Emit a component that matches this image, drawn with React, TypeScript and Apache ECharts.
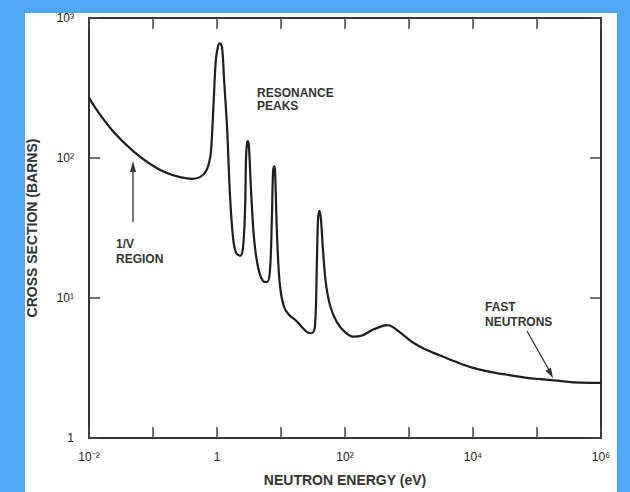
import React, { useEffect, useRef } from 'react';
import * as echarts from 'echarts';

// Neutron energy (eV) and total cross section (barns)
const energyEv = [
  0.01, 0.0148, 0.0257, 0.049, 0.089, 0.154, 0.264, 0.41, 0.54, 0.67,
  0.78, 0.83, 0.89, 0.96, 1.04, 1.11, 1.2, 1.29, 1.44, 1.59,
  1.78, 1.99, 2.3, 2.55, 2.75, 2.84, 2.95, 3.05, 3.16, 3.39,
  3.78, 4.38, 5.25, 6.03, 6.7, 7.2, 7.5, 7.8, 8.06, 8.7,
  9.6, 11.1, 13.3, 16.6, 20.5, 25.6, 30.3, 34, 36.5, 38,
  40, 42, 45, 50, 59, 75, 100, 133, 185, 265,
  380, 470, 605, 810, 1120, 1780, 3000, 5400, 10000, 18500,
  34000, 65000, 112000, 205000, 365000, 680000, 1000000,
];
const crossSectionBarns = [
  269, 205, 149, 112, 91, 79, 73, 71, 73, 80,
  100, 138, 263, 500, 630, 660, 615, 363, 162, 56,
  27, 21, 20, 23, 44, 100, 129, 132, 120, 61,
  27, 16.6, 13.2, 13, 15.4, 37, 78, 87, 82, 27,
  12.4, 8.7, 7.6, 7.0, 6.3, 5.7, 5.6, 6.3, 19.6, 37,
  42, 37, 23, 13, 8.7, 6.7, 5.7, 5.3, 5.4, 5.9,
  6.3, 6.4, 6.05, 5.45, 4.85, 4.3, 3.9, 3.5, 3.17, 2.97,
  2.83, 2.7, 2.63, 2.57, 2.5, 2.48, 2.48,
];

const xLabelExponents = [-2, 0, 2, 4, 6];
const xLabelTexts = ['10⁻²', '1', '10²', '10⁴', '10⁶'];
const yLabelExponents = [0, 1, 2, 3];
const yLabelTexts = ['1', '10¹', '10²', '10³'];

const xAxisName = 'NEUTRON ENERGY (eV)';
const yAxisName = 'CROSS SECTION (BARNS)';
const resonanceText = 'RESONANCE\nPEAKS';
const oneOverVText = '1/V\nREGION';
const fastText = 'FAST\nNEUTRONS';

const FONT = '"Liberation Sans", Arial, sans-serif';
const INK = '#1e1e1e';

export default function App() {
  const ref = useRef<HTMLDivElement>(null);

  useEffect(() => {
    const chart = echarts.init(ref.current!, null, { renderer: 'svg' });
    const xFmt = (v: number) => {
      const e = Math.round(Math.log10(v));
      const i = xLabelExponents.indexOf(e);
      return i >= 0 ? xLabelTexts[i] : '';
    };
    const yFmt = (v: number) => {
      const e = Math.round(Math.log10(v));
      const i = yLabelExponents.indexOf(e);
      return i >= 0 ? yLabelTexts[i] : '';
    };
    const axisLine = { show: true, lineStyle: { color: '#333', width: 2 } };
    const axisTick = { show: true, inside: true, length: 11, lineStyle: { color: '#444', width: 1.5 } };

    chart.setOption({
      animation: false,
      backgroundColor: '#52a6f8',
      grid: { left: 89, top: 18, width: 512, height: 425, containLabel: false },
      xAxis: [
        {
          type: 'log', logBase: 10, min: 0.01, max: 1000000, splitNumber: 8,
          position: 'bottom',
          axisLine, axisTick,
          splitLine: { show: false },
          axisLabel: {
            formatter: xFmt, color: '#222', fontSize: 12, fontFamily: FONT,
            margin: 13, showMinLabel: true, showMaxLabel: true, hideOverlap: false,
          },
          name: xAxisName, nameLocation: 'middle', nameGap: 35,
          nameTextStyle: { color: '#333', fontSize: 14, fontWeight: 'bold', fontFamily: FONT },
        },
        {
          type: 'log', logBase: 10, min: 0.01, max: 1000000, splitNumber: 8,
          position: 'top',
          axisLine, axisTick,
          splitLine: { show: false },
          axisLabel: { show: false },
        },
      ],
      yAxis: [
        {
          type: 'log', logBase: 10, min: 1, max: 1000, splitNumber: 3,
          position: 'left',
          axisLine, axisTick,
          splitLine: { show: false },
          axisLabel: {
            formatter: yFmt, color: '#222', fontSize: 12, fontFamily: FONT,
            margin: 15, showMinLabel: true, showMaxLabel: true,
          },
          name: yAxisName, nameLocation: 'middle', nameGap: 50,
          nameTextStyle: { color: '#333', fontSize: 14, fontWeight: 'bold', fontFamily: FONT },
        },
        {
          type: 'log', logBase: 10, min: 1, max: 1000, splitNumber: 3,
          position: 'right',
          axisLine, axisTick,
          splitLine: { show: false },
          axisLabel: { show: false },
        },
      ],
      series: [
        {
          type: 'line',
          xAxisIndex: 0,
          yAxisIndex: 0,
          data: energyEv.map((e, i) => [e, crossSectionBarns[i]]),
          showSymbol: false,
          smooth: 0.35,
          lineStyle: { color: INK, width: 2.2 },
          z: 3,
        },
      ],
      graphic: [
        { type: 'rect', z: -10, silent: true, shape: { x: 25, y: 13, width: 592, height: 479 }, style: { fill: '#fff' } },
        { type: 'rect', z: 100, silent: true, shape: { x: 617, y: 0, width: 13, height: 492 }, style: { fill: '#52a6f8' } },
        {
          type: 'text', z: 50, x: 257, y: 86,
          style: { text: resonanceText, fill: '#333', font: `bold 12px ${FONT}`, lineHeight: 13 },
        },
        {
          type: 'text', z: 50, x: 116, y: 236,
          style: { text: oneOverVText, fill: '#333', font: `bold 12px ${FONT}`, lineHeight: 15 },
        },
        {
          type: 'text', z: 50, x: 485, y: 299,
          style: { text: fastText, fill: '#333', font: `bold 12px ${FONT}`, lineHeight: 15 },
        },
        {
          type: 'line', z: 50, shape: { x1: 133, y1: 222, x2: 133, y2: 168 },
          style: { stroke: '#333', lineWidth: 1.3 },
        },
        {
          type: 'polygon', z: 50, shape: { points: [[133, 161], [130, 172], [136, 172]] },
          style: { fill: '#333' },
        },
        {
          type: 'line', z: 50, shape: { x1: 527, y1: 331, x2: 549, y2: 370 },
          style: { stroke: '#333', lineWidth: 1.3 },
        },
        {
          type: 'polygon', z: 50, shape: { points: [[553, 378], [545.5, 370.8], [550.9, 367.8]] },
          style: { fill: '#333' },
        },
      ],
    });
    return () => chart.dispose();
  }, []);

  return (
    <div
      ref={ref}
      style={{ position: 'fixed', left: 0, top: 0, width: 630, height: 492 }}
    />
  );
}
